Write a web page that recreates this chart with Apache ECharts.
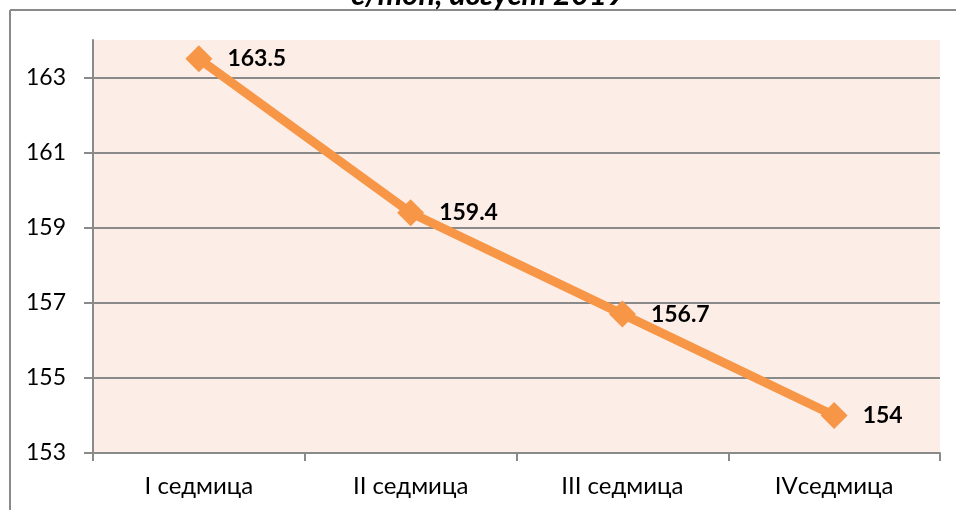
<!DOCTYPE html>
<html>
<head>
    <meta charset="utf-8">
    <script src="https://cdn.jsdelivr.net/npm/echarts@6/dist/echarts.min.js"></script>
</head>
<body style="margin:0">
<div id="main" style="width: 956px;height:510px;"></div>
<script type="text/javascript">
    // данни
    var weeks = ['I седмица', 'II седмица', 'III седмица', 'IVседмица'];
    var prices = [163.5, 159.4, 156.7, 154];
    var yTicks = [153, 155, 157, 159, 161, 163];
    var titleText = 'с/тон, август 2019';

    var myChart = echarts.init(document.getElementById('main'));
    var font = 'Lato, "Noto Sans", sans-serif';
    var gray = '#8a8a8a';

    var option = {
        animation: false,
        backgroundColor: '#fff',
        textStyle: { fontFamily: font },
        graphic: [
            { type: 'line', shape: { x1: 10, y1: 10, x2: 956, y2: 10 }, style: { stroke: gray, lineWidth: 2 } },
            { type: 'line', shape: { x1: 10, y1: 10, x2: 10, y2: 510 }, style: { stroke: gray, lineWidth: 2 } },
            {
                type: 'text', x: 488, y: -5,
                style: {
                    text: titleText, fill: '#000', font: 'italic bold 31px ' + font,
                    align: 'center', verticalAlign: 'middle'
                }
            }
        ],
        grid: {
            left: 93, right: 16, top: 40, bottom: 57,
            show: true, backgroundColor: '#fdede7', borderWidth: 0
        },
        xAxis: {
            type: 'category',
            data: weeks,
            boundaryGap: true,
            axisLine: { lineStyle: { color: gray, width: 2 } },
            axisTick: { show: true, length: 8, lineStyle: { color: gray, width: 2 } },
            axisLabel: { color: '#000', fontSize: 24, margin: 21, fontFamily: font }
        },
        yAxis: {
            type: 'value',
            min: 153,
            max: 164,
            axisLine: { show: true, lineStyle: { color: gray, width: 2 } },
            axisTick: { show: true, length: 9, customValues: yTicks, lineStyle: { color: gray, width: 2 } },
            axisLabel: { color: '#000', fontSize: 23, margin: 27, customValues: yTicks, fontFamily: font },
            splitLine: { show: true, lineStyle: { color: gray, width: 2 } }
        },
        series: [{
            type: 'line',
            data: prices,
            symbol: 'diamond',
            symbolSize: 27,
            itemStyle: { color: '#f79646' },
            lineStyle: { color: '#f79646', width: 9 },
            label: {
                show: true, position: 'right', distance: 15,
                color: '#000', fontWeight: 'bold', fontSize: 23, fontFamily: font
            }
        }]
    };

    myChart.setOption(option);
</script>
</body>
</html>
